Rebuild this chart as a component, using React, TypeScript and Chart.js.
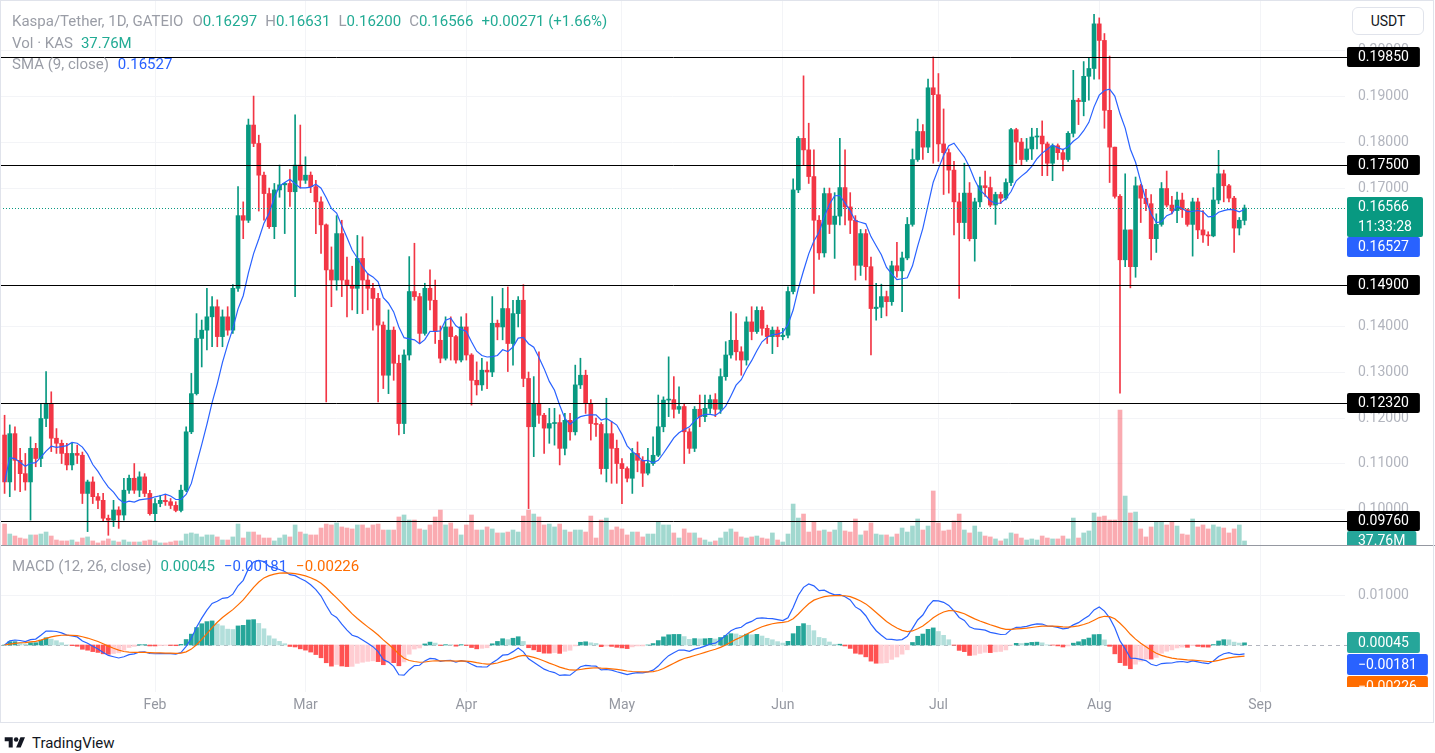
import React, { useEffect, useRef } from 'react';
import { Chart, registerables } from 'chart.js';
Chart.register(...registerables);

// day index: 0 = 1 Jan 2024; first visible candle is day 2
const FIRST_DAY = 2;

const opens = [
  0.1163,0.1061,0.1166,0.1108,0.1079,0.1061,0.1134,0.1112,0.1199,0.1232,
  0.1156,0.1145,0.1123,0.1098,0.1123,0.1119,0.1036,0.1061,0.1029,0.1021,
  0.0982,0.0978,0.1000,0.0989,0.1043,0.1069,0.1043,0.1072,0.1036,0.0992,
  0.1014,0.1021,0.1018,0.1010,0.0999,0.1043,0.1170,0.1253,0.1373,0.1391,
  0.1420,0.1442,0.1377,0.1420,0.1391,0.1482,0.1640,0.1630,0.1837,0.1797,
  0.1728,0.1688,0.1616,0.1696,0.1707,0.1710,0.1692,0.1750,0.1717,0.1728,
  0.1703,0.1670,0.1620,0.1522,0.1500,0.1601,0.1500,0.1489,0.1482,0.1547,
  0.1500,0.1482,0.1460,0.1402,0.1293,0.1391,0.1319,0.1188,0.1337,0.1475,
  0.1464,0.1384,0.1482,0.1456,0.1369,0.1330,0.1398,0.1377,0.1326,0.1398,
  0.1337,0.1282,0.1272,0.1304,0.1300,0.1406,0.1398,0.1438,0.1362,0.1427,
  0.1456,0.1286,0.1181,0.1232,0.1206,0.1178,0.1188,0.1190,0.1134,0.1195,
  0.1170,0.1272,0.1293,0.1232,0.1188,0.1186,0.1090,0.1166,0.1134,0.1101,
  0.1090,0.1069,0.1123,0.1108,0.1080,0.1101,0.1119,0.1181,0.1239,0.1240,
  0.1219,0.1225,0.1170,0.1134,0.1219,0.1203,0.1221,0.1240,0.1219,0.1290,
  0.1337,0.1369,0.1344,0.1326,0.1409,0.1388,0.1434,0.1395,0.1377,0.1391,
  0.1377,0.1380,0.1475,0.1696,0.1808,0.1783,0.1725,0.1630,0.1559,0.1688,
  0.1621,0.1639,0.1701,0.1659,0.1630,0.1532,0.1601,0.1529,0.1438,0.1441,
  0.1464,0.1453,0.1531,0.1520,0.1548,0.1621,0.1762,0.1823,0.1789,0.1918,
  0.1903,0.1796,0.1777,0.1739,0.1670,0.1625,0.1689,0.1590,0.1670,0.1705,
  0.1701,0.1663,0.1686,0.1678,0.1712,0.1827,0.1800,0.1762,0.1785,0.1811,
  0.1813,0.1796,0.1754,0.1792,0.1777,0.1762,0.1819,0.1891,0.1888,0.1943,
  0.1960,0.2057,0.2021,0.1869,0.1789,0.1682,0.1544,0.1609,0.1529,0.1705,
  0.1678,0.1666,0.1590,0.1621,0.1699,0.1663,0.1651,0.1674,0.1653,0.1621,
  0.1670,0.1609,0.1598,0.1596,0.1674,0.1731,0.1705,0.1678,0.1613,0.16297,
];

const highs = [
  0.1206,0.1185,0.1181,0.1134,0.1123,0.1159,0.1145,0.1232,0.1301,0.1257,
  0.1177,0.1152,0.1145,0.1145,0.1141,0.1126,0.1065,0.1072,0.1036,0.1036,
  0.0989,0.1021,0.1007,0.1069,0.1076,0.1101,0.1083,0.1079,0.1043,0.1025,
  0.1032,0.1032,0.1025,0.1018,0.1054,0.1181,0.1297,0.1427,0.1413,0.1482,
  0.1464,0.1457,0.1435,0.1442,0.1490,0.1703,0.1670,0.1850,0.1900,0.1815,
  0.1735,0.1700,0.1710,0.1750,0.1712,0.1740,0.1859,0.1837,0.1768,0.1735,
  0.1717,0.1681,0.1622,0.1572,0.1640,0.1630,0.1550,0.1530,0.1597,0.1594,
  0.1514,0.1493,0.1471,0.1409,0.1435,0.1398,0.1337,0.1348,0.1551,0.1580,
  0.1471,0.1493,0.1522,0.1500,0.1400,0.1420,0.1420,0.1380,0.1420,0.1427,
  0.1340,0.1322,0.1330,0.1322,0.1464,0.1413,0.1482,0.1485,0.1456,0.1464,
  0.1490,0.1300,0.1290,0.1344,0.1210,0.1221,0.1221,0.1207,0.1210,0.1210,
  0.1315,0.1330,0.1304,0.1240,0.1200,0.1190,0.1243,0.1192,0.1152,0.1112,
  0.1094,0.1134,0.1148,0.1116,0.1134,0.1159,0.1250,0.1246,0.1333,0.1290,
  0.1268,0.1232,0.1177,0.1225,0.1250,0.1250,0.1250,0.1253,0.1307,0.1366,
  0.1431,0.1427,0.1355,0.1420,0.1442,0.1442,0.1442,0.1402,0.1398,0.1398,
  0.1395,0.1485,0.1720,0.1812,0.1944,0.1841,0.1783,0.1640,0.1700,0.1700,
  0.1690,0.1808,0.1783,0.1690,0.1640,0.1610,0.1610,0.1550,0.1493,0.1491,
  0.1476,0.1541,0.1582,0.1561,0.1636,0.1785,0.1850,0.1838,0.1937,0.1985,
  0.1949,0.1872,0.1785,0.1758,0.1689,0.1754,0.1712,0.1678,0.1724,0.1737,
  0.1724,0.1691,0.1691,0.1720,0.1830,0.1830,0.1808,0.1808,0.1830,0.1830,
  0.1846,0.1800,0.1796,0.1796,0.1785,0.1823,0.1956,0.1895,0.1975,0.1983,
  0.2078,0.2070,0.2036,0.1987,0.1789,0.1686,0.1731,0.1609,0.1724,0.1708,
  0.1697,0.1686,0.1644,0.1712,0.1737,0.1682,0.1691,0.1689,0.1655,0.1678,
  0.1678,0.1651,0.1605,0.1701,0.1782,0.1739,0.1708,0.1682,0.1636,0.16631,
];

const lows = [
  0.1036,0.1029,0.1043,0.1040,0.1043,0.0978,0.1094,0.1094,0.1181,0.1127,
  0.1123,0.1101,0.1087,0.1087,0.1101,0.1014,0.0953,0.1014,0.1003,0.0975,
  0.0945,0.0964,0.0960,0.0978,0.1036,0.1036,0.1029,0.1029,0.0989,0.0975,
  0.1007,0.1010,0.1003,0.0996,0.0996,0.1040,0.1166,0.1250,0.1311,0.1348,
  0.1355,0.1355,0.1355,0.1380,0.1384,0.1475,0.1590,0.1625,0.1790,0.1650,
  0.1630,0.1612,0.1590,0.1680,0.1601,0.1660,0.1464,0.1700,0.1710,0.1690,
  0.1601,0.1558,0.1235,0.1442,0.1478,0.1464,0.1420,0.1435,0.1427,0.1427,
  0.1435,0.1391,0.1235,0.1264,0.1253,0.1282,0.1163,0.1166,0.1326,0.1456,
  0.1362,0.1380,0.1435,0.1362,0.1320,0.1326,0.1326,0.1319,0.1322,0.1326,
  0.1228,0.1250,0.1260,0.1264,0.1290,0.1370,0.1370,0.1301,0.1315,0.1398,
  0.1268,0.1003,0.1116,0.1188,0.1123,0.1145,0.1141,0.1098,0.1120,0.1152,
  0.1163,0.1264,0.1210,0.1152,0.1160,0.1078,0.1061,0.1058,0.1058,0.1014,
  0.1061,0.1036,0.1083,0.1051,0.1076,0.1097,0.1116,0.1170,0.1203,0.1200,
  0.1210,0.1101,0.1123,0.1127,0.1181,0.1192,0.1210,0.1203,0.1210,0.1282,
  0.1330,0.1326,0.1293,0.1315,0.1370,0.1384,0.1380,0.1362,0.1340,0.1355,
  0.1370,0.1374,0.1470,0.1690,0.1750,0.1710,0.1471,0.1545,0.1550,0.1601,
  0.1547,0.1620,0.1620,0.1601,0.1500,0.1510,0.1500,0.1337,0.1413,0.1418,
  0.1422,0.1445,0.1506,0.1431,0.1544,0.1617,0.1758,0.1762,0.1777,0.1754,
  0.1758,0.1686,0.1689,0.1598,0.1460,0.1590,0.1585,0.1541,0.1659,0.1682,
  0.1659,0.1621,0.1666,0.1674,0.1705,0.1754,0.1750,0.1758,0.1762,0.1785,
  0.1727,0.1727,0.1716,0.1762,0.1737,0.1758,0.1811,0.1838,0.1857,0.1891,
  0.1937,0.1937,0.1830,0.1712,0.1678,0.1254,0.1529,0.1483,0.1506,0.1625,
  0.1651,0.1544,0.1560,0.1617,0.1659,0.1644,0.1625,0.1636,0.1617,0.1552,
  0.1590,0.1582,0.1575,0.1594,0.1666,0.1670,0.1670,0.1560,0.1598,0.16200,
];

const closes = [
  0.1061,0.1166,0.1108,0.1079,0.1061,0.1134,0.1112,0.1199,0.1232,0.1156,
  0.1145,0.1123,0.1098,0.1123,0.1119,0.1036,0.1061,0.1029,0.1021,0.0982,
  0.0978,0.1000,0.0989,0.1043,0.1069,0.1043,0.1072,0.1036,0.0992,0.1014,
  0.1021,0.1018,0.1010,0.0999,0.1043,0.1170,0.1253,0.1373,0.1391,0.1420,
  0.1442,0.1377,0.1420,0.1391,0.1482,0.1640,0.1630,0.1837,0.1797,0.1728,
  0.1688,0.1616,0.1696,0.1707,0.1710,0.1692,0.1750,0.1717,0.1728,0.1703,
  0.1670,0.1620,0.1522,0.1500,0.1601,0.1500,0.1489,0.1482,0.1547,0.1500,
  0.1482,0.1460,0.1402,0.1293,0.1391,0.1319,0.1188,0.1337,0.1475,0.1464,
  0.1384,0.1482,0.1456,0.1388,0.1330,0.1398,0.1377,0.1326,0.1398,0.1337,
  0.1282,0.1272,0.1304,0.1300,0.1406,0.1398,0.1438,0.1362,0.1427,0.1456,
  0.1286,0.1181,0.1232,0.1206,0.1178,0.1188,0.1190,0.1134,0.1195,0.1170,
  0.1272,0.1293,0.1232,0.1188,0.1186,0.1090,0.1166,0.1134,0.1101,0.1090,
  0.1069,0.1123,0.1108,0.1080,0.1101,0.1119,0.1181,0.1239,0.1240,0.1219,
  0.1225,0.1170,0.1134,0.1219,0.1203,0.1221,0.1240,0.1219,0.1290,0.1337,
  0.1369,0.1344,0.1326,0.1409,0.1388,0.1434,0.1395,0.1377,0.1391,0.1377,
  0.1380,0.1475,0.1696,0.1808,0.1783,0.1725,0.1630,0.1559,0.1688,0.1621,
  0.1639,0.1701,0.1659,0.1630,0.1532,0.1601,0.1529,0.1438,0.1441,0.1464,
  0.1453,0.1531,0.1520,0.1548,0.1621,0.1762,0.1823,0.1789,0.1918,0.1903,
  0.1796,0.1777,0.1739,0.1670,0.1625,0.1689,0.1590,0.1670,0.1705,0.1701,
  0.1663,0.1686,0.1678,0.1712,0.1827,0.1800,0.1762,0.1785,0.1811,0.1813,
  0.1796,0.1754,0.1792,0.1777,0.1762,0.1819,0.1891,0.1888,0.1943,0.1960,
  0.2057,0.2021,0.1869,0.1789,0.1682,0.1544,0.1609,0.1529,0.1705,0.1678,
  0.1666,0.1590,0.1621,0.1699,0.1663,0.1651,0.1674,0.1653,0.1621,0.1670,
  0.1609,0.1598,0.1596,0.1674,0.1731,0.1705,0.1678,0.1613,0.1630,0.16566,
];

// volume, millions of KAS
const volumes = [
  165,90,75,60,53,83,83,90,105,75,45,38,38,45,30,60,68,38,23,38,53,38,30,45,30,30,30,38,45,38,23,23,30,38,38,90,98,90,68,83,83,68,
  45,45,68,165,60,105,105,83,60,60,38,60,83,68,158,105,90,83,83,135,165,158,173,143,135,128,158,158,135,158,165,120,120,120,218,233,195,195,128,120,158,218,
  270,158,173,128,83,158,233,120,120,143,128,98,98,105,120,105,225,270,240,218,158,165,143,165,120,105,120,120,105,225,60,195,210,120,143,128,83,105,105,68,90,90,180,
  158,158,98,60,128,98,98,60,45,30,38,60,105,128,105,68,60,68,75,60,53,98,45,30,90,315,210,240,105,180,113,120,105,120,180,113,105,203,83,113,173,90,
  83,83,68,90,135,105,150,203,120,150,413,173,113,120,188,240,120,98,150,105,75,68,53,38,53,98,90,60,45,53,45,75,60,53,53,75,53,210,60,98,113,248,218,
  225,195,195,1020,375,248,255,128,68,143,180,180,158,180,150,90,83,203,143,158,128,158,143,135,98,128,158,37.76,
];

const monthTickDays = [31, 60, 91, 121, 152, 182, 213, 244];
const monthTickLabels = ['Feb', 'Mar', 'Apr', 'May', 'Jun', 'Jul', 'Aug', 'Sep'];
const priceTickValues = [0.1, 0.11, 0.12, 0.13, 0.14, 0.17, 0.18, 0.19, 0.2];
const macdTickValues = [0.01];
const levelValues = [0.1985, 0.175, 0.149, 0.1232, 0.0976];
const levelLabels = ['0.19850', '0.17500', '0.14900', '0.12320', '0.09760'];
const lastPrice = 0.16566;
const lastPriceLabel = '0.16566';
const countdownLabel = '11:33:28';
const smaValue = 0.16527;
const smaLabel = '0.16527';
const lastVolume = 37.76;
const lastVolumeLabel = '37.76M';
const headerOHLC = ['0.16297', '0.16631', '0.16200', '0.16566'];
const headerChange = '+0.00271 (+1.66%)';
const macdLegendValues = [0.00045, -0.00181, -0.00226];
const macdLegendLabels = ['0.00045', '\u22120.00181', '\u22120.00226'];

// view ranges
const X_MIN = 1.118;
const X_MAX = 260.37;
const P_MIN = 0.09217;
const P_MAX = 0.21089;
const V_MAX = 4100;
const M_MIN = -0.00959;
const M_MAX = 0.0202;

const UP = '#089981';
const DOWN = '#f23645';
const UP_VOL = 'rgba(8,153,129,0.38)';
const DOWN_VOL = 'rgba(242,54,69,0.42)';
const BLUE = '#2962ff';
const ORANGE = '#ff6d00';
const AXIS_TEXT = '#b2b5be';
const GRID = '#f3f4f7';
const FONT_FAMILY = 'Roboto, sans-serif';

function smaSeries(arr: number[], n: number) {
  return arr.map((_, i) => {
    const s = arr.slice(Math.max(0, i - n + 1), i + 1);
    return s.reduce((a, b) => a + b, 0) / s.length;
  });
}
function emaSeries(arr: number[], n: number) {
  const k = 2 / (n + 1);
  const out: number[] = [];
  arr.forEach((v, i) => out.push(i === 0 ? v : v * k + out[i - 1] * (1 - k)));
  return out;
}

function hline(ctx: any, x1: number, x2: number, y: number) {
  ctx.beginPath();
  ctx.moveTo(x1, y);
  ctx.lineTo(x2, y);
  ctx.stroke();
}

function tag(ctx: any, top: number, height: number, fill: string, texts: string[]) {
  ctx.font = `14px ${FONT_FAMILY}`;
  const w = Math.max(...texts.map((t) => ctx.measureText(t).width)) + 22;
  ctx.fillStyle = fill;
  ctx.beginPath();
  if (ctx.roundRect) ctx.roundRect(1347, top, w, height, 2);
  else ctx.rect(1347, top, w, height);
  ctx.fill();
  ctx.fillStyle = '#ffffff';
  ctx.textAlign = 'left';
  ctx.textBaseline = 'middle';
  const step = height / texts.length;
  texts.forEach((t, i) => ctx.fillText(t, 1358, top + step * (i + 0.5) + 0.5));
}

function xScale(showTicks: boolean): any {
  return {
    type: 'linear',
    min: X_MIN,
    max: X_MAX,
    offset: false,
    grid: { color: GRID, drawTicks: false, offset: false },
    border: { display: false },
    ticks: {
      display: showTicks,
      color: '#9598a1',
      font: { family: FONT_FAMILY, size: 14 },
      padding: 5,
      maxRotation: 0,
      autoSkip: false,
      callback: (v: any) => {
        const k = monthTickDays.indexOf(Number(v));
        return k >= 0 ? monthTickLabels[k] : '';
      },
    },
    afterBuildTicks: (s: any) => {
      s.ticks = monthTickDays.map((v) => ({ value: v }));
    },
    afterFit: (s: any) => {
      s.height = showTicks ? 30 : 0;
      s.paddingLeft = 0;
      s.paddingRight = 0;
    },
  };
}

const pricePlugin = {
  id: 'priceOverlay',
  afterDatasetsDraw(chart: any) {
    const { ctx, scales, chartArea } = chart;
    const y = scales.y;
    const right = chartArea.right + 2;
    ctx.save();
    ctx.lineWidth = 1;
    ctx.strokeStyle = '#000000';
    levelValues.forEach((v) => hline(ctx, 0, right, Math.round(y.getPixelForValue(v)) + 0.5));
    ctx.setLineDash([1, 2]);
    ctx.strokeStyle = UP;
    hline(ctx, 0, right, Math.round(y.getPixelForValue(lastPrice)) + 0.5);
    ctx.restore();
  },
  afterDraw(chart: any) {
    const { ctx, scales, width, height } = chart;
    const y = scales.y;
    const yv = scales.yv;
    ctx.save();
    levelValues.forEach((v, i) => {
      const py = Math.round(y.getPixelForValue(v));
      tag(ctx, py - 10, 20, '#000000', [levelLabels[i]]);
    });
    const lp = Math.round(y.getPixelForValue(lastPrice));
    const pTop = lp - 11;
    tag(ctx, pTop, 40, UP, [lastPriceLabel, countdownLabel]);
    const sTop = Math.max(Math.round(y.getPixelForValue(smaValue)) - 10, pTop + 40);
    tag(ctx, sTop, 20, BLUE, [smaLabel]);
    const vp = Math.round(yv.getPixelForValue(lastVolume));
    tag(ctx, vp - 10, 20, '#26a69a', [lastVolumeLabel]);
    // pane separator
    ctx.strokeStyle = '#9598a1';
    ctx.lineWidth = 1;
    hline(ctx, 0, width, height - 0.5);
    ctx.restore();
  },
};

const macdPlugin = {
  id: 'macdOverlay',
  beforeDatasetsDraw(chart: any) {
    const { ctx, scales, chartArea } = chart;
    ctx.save();
    ctx.strokeStyle = '#b2b5be';
    ctx.lineWidth = 1;
    ctx.setLineDash([4, 4]);
    hline(ctx, 0, chartArea.right + 2, Math.round(scales.y.getPixelForValue(0)) + 0.5);
    ctx.restore();
  },
  afterDraw(chart: any) {
    const { ctx, scales, chartArea } = chart;
    const y = scales.y;
    ctx.save();
    ctx.beginPath();
    ctx.rect(0, 0, chart.width, chartArea.bottom - 5);
    ctx.clip();
    const colors = ['#26a69a', BLUE, ORANGE];
    let prevBottom = -1000;
    macdLegendValues.forEach((v, i) => {
      const top = Math.max(Math.round(y.getPixelForValue(v)) - 11, prevBottom);
      tag(ctx, top, 21, colors[i], [macdLegendLabels[i]]);
      prevBottom = top + 22;
    });
    ctx.restore();
  },
};

export default function App() {
  const priceRef = useRef<HTMLCanvasElement | null>(null);
  const macdRef = useRef<HTMLCanvasElement | null>(null);

  useEffect(() => {
    const days = closes.map((_, i) => FIRST_DAY + i);
    const up = closes.map((c, i) => c >= opens[i]);
    const sma9 = smaSeries(closes, 9);
    const ema12 = emaSeries(closes, 12);
    const ema26 = emaSeries(closes, 26);
    const macd = ema12.map((v, i) => v - ema26[i]);
    const signal = emaSeries(macd, 9);
    const hist = macd.map((v, i) => v - signal[i]);
    const histColors = hist.map((h, i) => {
      const p = i > 0 ? hist[i - 1] : h;
      return h >= 0 ? (h >= p ? '#26a69a' : '#b2dfdb') : h < p ? '#ff5252' : '#ffcdd2';
    });
    const font = { family: FONT_FAMILY, size: 14 };

    const priceChart = new Chart(priceRef.current as HTMLCanvasElement, {
      type: 'bar',
      data: {
        datasets: [
          {
            type: 'line',
            data: days.map((d, i) => ({ x: d, y: sma9[i] })),
            borderColor: BLUE,
            borderWidth: 1.2,
            pointRadius: 0,
            yAxisID: 'y',
            order: 0,
          } as any,
          {
            type: 'bar',
            data: days.map((d, i) => ({ x: d, y: [opens[i], closes[i]] })),
            backgroundColor: up.map((u) => (u ? UP : DOWN)),
            barThickness: 4,
            minBarLength: 1,
            grouped: false,
            yAxisID: 'y',
            order: 1,
          } as any,
          {
            type: 'bar',
            data: days.map((d, i) => ({ x: d, y: [lows[i], highs[i]] })),
            backgroundColor: up.map((u) => (u ? UP : DOWN)),
            barThickness: 1,
            minBarLength: 1,
            grouped: false,
            yAxisID: 'y',
            order: 2,
          } as any,
          {
            type: 'bar',
            data: days.map((d, i) => ({ x: d, y: volumes[i] })),
            backgroundColor: up.map((u) => (u ? UP_VOL : DOWN_VOL)),
            barThickness: 4,
            grouped: false,
            yAxisID: 'yv',
            order: 3,
          } as any,
        ],
      },
      options: {
        responsive: false,
        animation: false,
        devicePixelRatio: 1,
        events: [],
        layout: { padding: 0 },
        plugins: { legend: { display: false }, tooltip: { enabled: false } },
        scales: {
          x: xScale(false),
          y: {
            type: 'linear',
            position: 'right',
            min: P_MIN,
            max: P_MAX,
            grid: { color: GRID, drawTicks: false },
            border: { display: false },
            ticks: { color: AXIS_TEXT, font, padding: 13, callback: (v: any) => Number(v).toFixed(5) },
            afterBuildTicks: (s: any) => {
              s.ticks = priceTickValues.map((v) => ({ value: v }));
            },
            afterFit: (s: any) => {
              s.width = 90;
              s.paddingTop = 0;
              s.paddingBottom = 0;
            },
          },
          yv: { type: 'linear', display: false, min: 0, max: V_MAX },
        } as any,
      },
      plugins: [pricePlugin],
    } as any);

    const macdChart = new Chart(macdRef.current as HTMLCanvasElement, {
      type: 'bar',
      data: {
        datasets: [
          {
            type: 'line',
            data: days.map((d, i) => ({ x: d, y: signal[i] })),
            borderColor: ORANGE,
            borderWidth: 1.2,
            pointRadius: 0,
            order: 0,
          } as any,
          {
            type: 'line',
            data: days.map((d, i) => ({ x: d, y: macd[i] })),
            borderColor: BLUE,
            borderWidth: 1.2,
            pointRadius: 0,
            order: 1,
          } as any,
          {
            type: 'bar',
            data: days.map((d, i) => ({ x: d, y: hist[i] })),
            backgroundColor: histColors,
            barThickness: 4,
            grouped: false,
            order: 2,
          } as any,
        ],
      },
      options: {
        responsive: false,
        animation: false,
        devicePixelRatio: 1,
        events: [],
        layout: { padding: 0 },
        plugins: { legend: { display: false }, tooltip: { enabled: false } },
        scales: {
          x: xScale(true),
          y: {
            type: 'linear',
            position: 'right',
            min: M_MIN,
            max: M_MAX,
            grid: { color: GRID, drawTicks: false },
            border: { display: false },
            ticks: { color: AXIS_TEXT, font, padding: 13, callback: (v: any) => Number(v).toFixed(5) },
            afterBuildTicks: (s: any) => {
              s.ticks = macdTickValues.map((v) => ({ value: v }));
            },
            afterFit: (s: any) => {
              s.width = 90;
              s.paddingTop = 0;
              s.paddingBottom = 0;
            },
          },
        } as any,
      },
      plugins: [macdPlugin],
    } as any);

    return () => {
      priceChart.destroy();
      macdChart.destroy();
    };
  }, []);

  const gray = '#9a9da6';
  const teal = '#22ab94';
  const legendBase: React.CSSProperties = {
    position: 'absolute',
    left: 12,
    fontSize: 15,
    lineHeight: '18px',
    whiteSpace: 'nowrap',
    color: gray,
  };

  return (
    <div
      style={{
        position: 'fixed',
        left: 0,
        top: 0,
        width: 1435,
        height: 753,
        background: '#ffffff',
        overflow: 'hidden',
        fontFamily: FONT_FAMILY,
      }}
    >
      <canvas ref={priceRef} width={1435} height={546} style={{ position: 'absolute', left: 0, top: 0 }} />
      <canvas ref={macdRef} width={1435} height={176} style={{ position: 'absolute', left: 0, top: 546 }} />
      <div
        style={{
          position: 'absolute',
          left: 0,
          top: 0,
          width: 1432,
          height: 721,
          border: '1px solid #e0e3eb',
          pointerEvents: 'none',
        }}
      />
      <div style={{ ...legendBase, top: 12 }}>
        <span>Kaspa/Tether, 1D, GATEIO</span>
        <span style={{ marginLeft: 9 }}>O</span>
        <span style={{ color: teal }}>{headerOHLC[0]}</span>
        <span style={{ marginLeft: 8 }}>H</span>
        <span style={{ color: teal }}>{headerOHLC[1]}</span>
        <span style={{ marginLeft: 8 }}>L</span>
        <span style={{ color: teal }}>{headerOHLC[2]}</span>
        <span style={{ marginLeft: 8 }}>C</span>
        <span style={{ color: teal }}>{headerOHLC[3]}</span>
        <span style={{ marginLeft: 8, color: teal }}>{headerChange}</span>
      </div>
      <div style={{ ...legendBase, top: 34 }}>
        <span>Vol · KAS</span>
        <span style={{ marginLeft: 8, color: teal }}>{lastVolumeLabel}</span>
      </div>
      <div style={{ ...legendBase, top: 55 }}>
        <span>SMA (9, close)</span>
        <span style={{ marginLeft: 9, color: BLUE }}>{smaLabel}</span>
      </div>
      <div style={{ ...legendBase, top: 557 }}>
        <span>MACD (12, 26, close)</span>
        <span style={{ marginLeft: 9, color: teal }}>{macdLegendLabels[0]}</span>
        <span style={{ marginLeft: 9, color: BLUE }}>{macdLegendLabels[1]}</span>
        <span style={{ marginLeft: 9, color: ORANGE }}>{macdLegendLabels[2]}</span>
      </div>
      <div
        style={{
          position: 'absolute',
          left: 1352,
          top: 7,
          width: 72,
          height: 28,
          boxSizing: 'border-box',
          border: '1px solid #e0e3eb',
          borderRadius: 6,
          fontSize: 14,
          color: '#131722',
          display: 'flex',
          alignItems: 'center',
          justifyContent: 'center',
          background: '#fff',
        }}
      >
        USDT
      </div>
      <div style={{ position: 'absolute', left: 2, top: 734, display: 'flex', alignItems: 'center', height: 18 }}>
        <svg width="26" height="16" viewBox="0 0 36 28">
          <path d="M14 22H7V11H0V4h14v18z" fill="#131722" />
          <path d="M28 22h-8l7.5-18h8L28 22z" fill="#131722" />
          <circle cx="20" cy="8" r="4" fill="#131722" />
        </svg>
        <span style={{ marginLeft: 4, fontSize: 15, color: '#131722' }}>TradingView</span>
      </div>
    </div>
  );
}
